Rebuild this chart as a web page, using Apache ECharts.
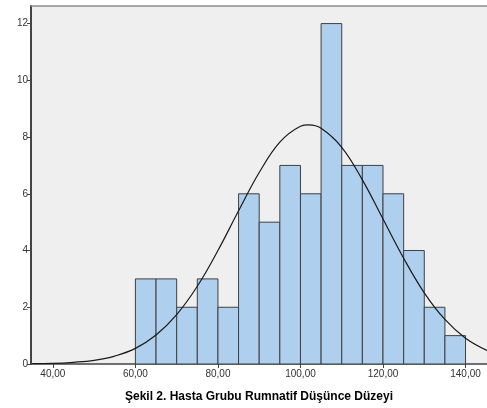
<!DOCTYPE html>
<html>
<head>
<meta charset="utf-8">
<script src="https://cdn.jsdelivr.net/npm/echarts@6/dist/echarts.min.js"></script>
<style>
html,body{margin:0;padding:0;background:#fff;}
#c{width:487px;height:408px;}
</style>
</head>
<body>
<div id="c"></div>
<script>
// Histogram bins (start value) and counts
var binStarts = [60, 65, 70, 75, 80, 85, 90, 95, 100, 105, 110, 115, 120, 125, 130, 135];
var binCounts = [3, 3, 2, 3, 2, 6, 5, 7, 6, 12, 7, 7, 6, 4, 2, 1];
var binWidth = 5;
// Normal curve points
var curveX = [35, 40, 45, 50, 55, 60, 65, 70, 75, 80, 85, 90, 95, 100, 102, 105, 110, 115, 120, 125, 130, 135, 140, 145.2];
var curveY = [0.01, 0.02, 0.06, 0.13, 0.28, 0.55, 1.02, 1.74, 2.74, 4.0, 5.4, 6.75, 7.82, 8.38, 8.43, 8.31, 7.64, 6.49, 5.11, 3.73, 2.51, 1.57, 0.91, 0.48];
var xTickValues = [40, 60, 80, 100, 120, 140];
var yTickValues = [0, 2, 4, 6, 8, 10, 12];
var xTitle = 'Şekil 2. Hasta Grubu Rumnatif Düşünce Düzeyi';

var chart = echarts.init(document.getElementById('c'));
var histData = binStarts.map(function (s, i) { return [s, s + binWidth, binCounts[i]]; });
var curveData = curveX.map(function (x, i) { return [x, curveY[i]]; });

chart.setOption({
  animation: false,
  backgroundColor: '#ffffff',
  grid: { left: 31, top: 6, right: 0, bottom: 41, show: true, backgroundColor: '#efefef', borderColor: '#8a8a8a', borderWidth: 0 },
  xAxis: {
    type: 'value', min: 34.7, max: 145.2,
    splitLine: { show: false },
    axisLine: { show: true, onZero: false, lineStyle: { color: '#444', width: 1.5 } },
    axisTick: { show: true, length: 4, customValues: xTickValues, lineStyle: { color: '#444' } },
    axisLabel: { customValues: xTickValues, color: '#333', fontSize: 10, fontFamily: 'Liberation Sans, Arial', margin: 5,
      formatter: function (v) { return v.toFixed(2).replace('.', ','); } },
    name: xTitle, nameLocation: 'middle', nameGap: 27,
    nameTextStyle: { fontWeight: 'bold', fontSize: 12, color: '#000', fontFamily: 'Liberation Sans, Arial' }
  },
  yAxis: {
    type: 'value', min: 0, max: 12.62,
    splitLine: { show: false },
    axisLine: { show: true, lineStyle: { color: '#444', width: 2 } },
    axisTick: { show: true, length: 4, customValues: yTickValues, lineStyle: { color: '#444' } },
    axisLabel: { customValues: yTickValues, color: '#333', fontSize: 10, fontFamily: 'Liberation Sans, Arial', margin: 3 }
  },
  graphic: [
    { type: 'line', shape: { x1: 31, y1: 6, x2: 487, y2: 6 }, style: { stroke: '#8a8a8a', lineWidth: 1.5 }, z: 10 }
  ],
  series: [
    {
      type: 'custom',
      data: histData,
      encode: { x: [0, 1], y: 2 },
      renderItem: function (params, api) {
        var p0 = api.coord([api.value(0), api.value(2)]);
        var p1 = api.coord([api.value(1), 0]);
        return {
          type: 'rect',
          shape: { x: p0[0], y: p0[1], width: p1[0] - p0[0], height: p1[1] - p0[1] },
          style: { fill: '#aed0ee', stroke: '#3f3f3f', lineWidth: 1 }
        };
      },
      z: 2
    },
    {
      type: 'line',
      data: curveData,
      smooth: 0.4,
      showSymbol: false,
      lineStyle: { color: '#1a1a1a', width: 1.2 },
      z: 3
    }
  ]
});
</script>
</body>
</html>
